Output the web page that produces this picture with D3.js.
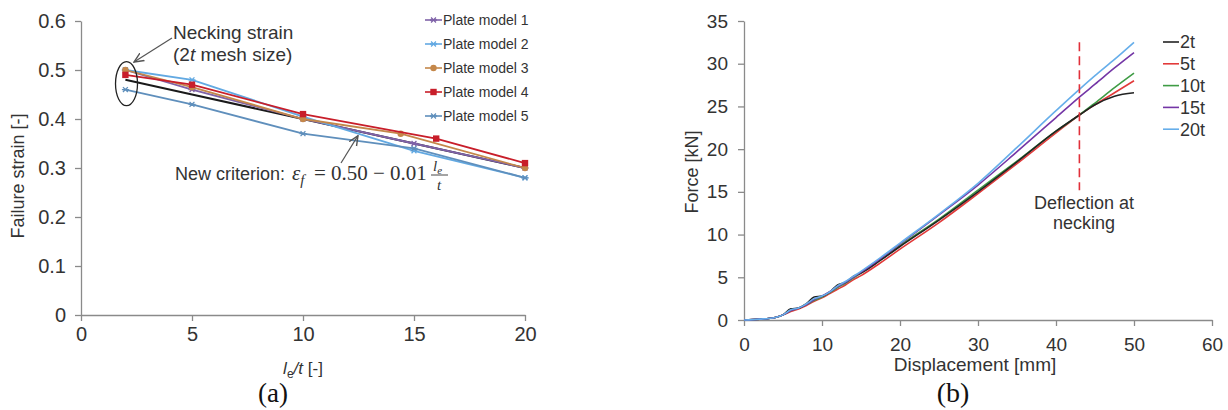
<!DOCTYPE html>
<html>
<head>
<meta charset="utf-8">
<script src="https://cdn.jsdelivr.net/npm/d3@7/dist/d3.min.js"></script>
<style>
  html, body { margin: 0; padding: 0; background: #fff; }
  svg { display: block; }
  .tick text { fill: #333; }
</style>
</head>
<body>
<svg id="fig" width="1228" height="410"></svg>
<script>
// ---------- Panel (a): failure strain vs. element length ratio ----------
const ratioTicks = [0, 5, 10, 15, 20];
const strainTicks = [0, 0.1, 0.2, 0.3, 0.4, 0.5, 0.6];

const plateNames = ["Plate model 1", "Plate model 2", "Plate model 3", "Plate model 4", "Plate model 5"];
const plate1X = [2, 5, 10, 15, 20];
const plate1Y = [0.50, 0.46, 0.40, 0.35, 0.30];
const plate2X = [2, 5, 10, 15, 20];
const plate2Y = [0.50, 0.48, 0.405, 0.335, 0.28];
const plate3X = [2, 5, 10, 14.4, 20];
const plate3Y = [0.50, 0.465, 0.40, 0.37, 0.30];
const plate4X = [2, 5, 10, 16, 20];
const plate4Y = [0.49, 0.47, 0.41, 0.36, 0.31];
const plate5X = [2, 5, 10, 15, 20];
const plate5Y = [0.46, 0.43, 0.37, 0.34, 0.28];
const criterionX = [2, 5, 10, 15, 20];
const criterionY = [0.48, 0.45, 0.40, 0.35, 0.30];

const plateColors = ["#7f62a8", "#62a9e2", "#c4874a", "#c81e2a", "#5f8fbc"];
const plateMarkers = ["star", "star", "circle", "square", "star"];

// ---------- Panel (b): force vs. displacement ----------
const dispTicks = [0, 10, 20, 30, 40, 50, 60];
const forceTicks = [0, 5, 10, 15, 20, 25, 30, 35];
const meshNames = ["2t", "5t", "10t", "15t", "20t"];
const disp = [0, 2, 4, 5, 6, 7, 8, 9, 10, 11, 12, 13, 14, 15, 17.5, 20, 25, 30, 35, 40, 43, 45, 47.5, 50];
const force2t  = [0, 0.1, 0.3, 0.6, 1.3, 1.4, 1.9, 2.7, 2.8, 3.3, 4.1, 4.4, 5.1, 5.5, 7.0, 8.6, 11.7, 15.0, 18.5, 22.1, 24.0, 25.2, 26.2, 26.6];
const force5t  = [0, 0.1, 0.3, 0.6, 1.0, 1.3, 1.7, 2.2, 2.6, 3.1, 3.6, 4.1, 4.7, 5.2, 6.7, 8.3, 11.4, 14.8, 18.3, 21.9, 24.0, 25.2, 26.6, 28.0];
const force10t = [0, 0.1, 0.3, 0.6, 1.1, 1.4, 1.8, 2.3, 2.7, 3.2, 3.8, 4.3, 4.9, 5.5, 7.0, 8.7, 11.8, 15.2, 18.6, 22.1, 24.0, 25.4, 27.2, 28.9];
const force15t = [0, 0.1, 0.3, 0.6, 1.1, 1.4, 1.8, 2.4, 2.8, 3.3, 3.9, 4.4, 5.0, 5.6, 7.2, 8.9, 12.3, 15.8, 19.7, 23.7, 26.1, 27.6, 29.5, 31.3];
const force20t = [0, 0.1, 0.3, 0.6, 1.2, 1.4, 1.9, 2.5, 2.8, 3.3, 4.0, 4.5, 5.1, 5.7, 7.3, 9.0, 12.4, 16.0, 20.2, 24.5, 27.0, 28.6, 30.5, 32.5];
const meshColors = ["#222222", "#e23a3a", "#3f9c45", "#7436a6", "#66aeea"];
const neckingDisp = 43;
const neckingRange = [15.2, 32.5];

const svg = d3.select("#fig");
const axisGrey = "#8a8a8a";
const sans = "Liberation Sans, Arial, sans-serif";
const serif = "Liberation Serif, Times New Roman, serif";

function styleAxis(g, size) {
  g.select(".domain").attr("stroke", axisGrey).attr("stroke-width", 1.3);
  g.selectAll(".tick line").attr("stroke", axisGrey).attr("stroke-width", 1.3);
  g.selectAll(".tick text").attr("font-family", sans).attr("font-size", size).attr("fill", "#333");
}

svg.append("defs").append("marker")
  .attr("id", "arrowHead")
  .attr("viewBox", "0 0 10 10").attr("refX", 9).attr("refY", 5)
  .attr("markerWidth", 9).attr("markerHeight", 9)
  .attr("orient", "auto-start-reverse")
  .append("path").attr("d", "M0,1 L9,5 L0,9").attr("fill", "none")
  .attr("stroke", "#555").attr("stroke-width", 1.3);

// ===== Panel (a) =====
const xa = d3.scaleLinear().domain([0, 20]).range([81, 525]);
const ya = d3.scaleLinear().domain([0, 0.6]).range([315, 21]);
const pa = svg.append("g");

pa.append("g").attr("transform", "translate(0,315)")
  .call(d3.axisBottom(xa).tickValues(ratioTicks).tickFormat(d3.format("d")).tickSize(6).tickSizeOuter(0).tickPadding(6))
  .call(g => styleAxis(g, 20));
pa.append("g").attr("transform", "translate(81,0)")
  .call(d3.axisLeft(ya).tickValues(strainTicks).tickFormat(d => d === 0 ? "0" : d3.format(".1f")(d)).tickSize(6).tickSizeOuter(0).tickPadding(9))
  .call(g => styleAxis(g, 20));

const plateSeries = [
  { x: plate1X, y: plate1Y }, { x: plate2X, y: plate2Y }, { x: plate3X, y: plate3Y },
  { x: plate4X, y: plate4Y }, { x: plate5X, y: plate5Y }
];
const lineA = d3.line().x(d => xa(d[0])).y(d => ya(d[1]));

// criterion line (black) drawn beneath the plate models
pa.append("path").datum(d3.zip(criterionX, criterionY))
  .attr("d", lineA).attr("fill", "none").attr("stroke", "#1a1a1a").attr("stroke-width", 2);

plateSeries.forEach((s, i) => {
  const pts = d3.zip(s.x, s.y);
  pa.append("path").datum(pts).attr("d", lineA)
    .attr("fill", "none").attr("stroke", plateColors[i]).attr("stroke-width", 1.8);
  const mk = pa.append("g");
  pts.forEach(p => drawMarker(mk, xa(p[0]), ya(p[1]), plateMarkers[i], plateColors[i]));
});

function drawMarker(g, cx, cy, type, color) {
  if (type === "square") {
    g.append("rect").attr("x", cx - 3.2).attr("y", cy - 3.2).attr("width", 6.4).attr("height", 6.4).attr("fill", color);
  } else if (type === "circle") {
    g.append("circle").attr("cx", cx).attr("cy", cy).attr("r", 3.2).attr("fill", color);
  } else {
    const r = 3.5;
    g.append("path")
      .attr("d", `M${cx - r},${cy}H${cx + r}M${cx - r * 0.7},${cy - r * 0.7}L${cx + r * 0.7},${cy + r * 0.7}M${cx - r * 0.7},${cy + r * 0.7}L${cx + r * 0.7},${cy - r * 0.7}`)
      .attr("stroke", color).attr("stroke-width", 1.3);
  }
}

// legend (a)
const legA = pa.append("g");
plateNames.forEach((name, i) => {
  const y = 20 + i * 24;
  legA.append("line").attr("x1", 425).attr("x2", 442).attr("y1", y).attr("y2", y)
    .attr("stroke", plateColors[i]).attr("stroke-width", 1.6);
  drawMarker(legA, 433.5, y, plateMarkers[i], plateColors[i]);
  legA.append("text").attr("x", 443).attr("y", y).attr("dy", "0.35em")
    .attr("font-family", sans).attr("font-size", 14).attr("fill", "#333").text(name);
});

// axis titles (a)
const xTitleA = pa.append("text").attr("x", 303).attr("y", 374).attr("text-anchor", "middle")
  .attr("font-family", sans).attr("font-size", 17).attr("fill", "#333");
xTitleA.append("tspan").attr("font-style", "italic").text("l");
xTitleA.append("tspan").attr("font-size", 12).attr("dy", 4).text("e");
xTitleA.append("tspan").attr("dy", -4).attr("font-style", "italic").text("/t");
xTitleA.append("tspan").text(" [-]");

pa.append("text").attr("transform", "translate(24,176) rotate(-90)").attr("text-anchor", "middle")
  .attr("font-family", sans).attr("font-size", 18).attr("fill", "#333").text("Failure strain [-]");

// necking strain annotation
pa.append("ellipse").attr("cx", xa(2.05)).attr("cy", ya(0.472)).attr("rx", 11).attr("ry", 22)
  .attr("fill", "none").attr("stroke", "#222").attr("stroke-width", 1.3);
pa.append("line").attr("x1", 172).attr("y1", 38).attr("x2", 134).attr("y2", 62)
  .attr("stroke", "#555").attr("stroke-width", 1.2).attr("marker-end", "url(#arrowHead)");
pa.append("text").attr("x", 173).attr("y", 39).attr("font-family", sans).attr("font-size", 19)
  .attr("fill", "#333").text("Necking strain");
const mesh = pa.append("text").attr("x", 173).attr("y", 61).attr("font-family", sans).attr("font-size", 19).attr("fill", "#333");
mesh.append("tspan").text("(2");
mesh.append("tspan").attr("font-style", "italic").text("t");
mesh.append("tspan").text(" mesh size)");

// criterion annotation
pa.append("line").attr("x1", 341).attr("y1", 163).attr("x2", 358).attr("y2", ya(0.366))
  .attr("stroke", "#555").attr("stroke-width", 1.2).attr("marker-end", "url(#arrowHead)");
pa.append("text").attr("x", 175).attr("y", 180).attr("font-family", sans).attr("font-size", 18)
  .attr("fill", "#333").text("New criterion:");
const eq = pa.append("text").attr("x", 292).attr("y", 180).attr("font-family", serif).attr("font-size", 21).attr("fill", "#333");
eq.append("tspan").attr("font-style", "italic").text("ε");
eq.append("tspan").attr("font-style", "italic").attr("font-size", 15).attr("dy", 5).text("f");
eq.append("tspan").attr("dy", -5).text("\u2009 = 0.50 \u2212 0.01");
// fraction l_e / t
pa.append("line").attr("x1", 431).attr("x2", 448).attr("y1", 175).attr("y2", 175).attr("stroke", "#333").attr("stroke-width", 0.9);
const num = pa.append("text").attr("x", 433).attr("y", 171).attr("font-family", serif).attr("font-size", 15).attr("fill", "#333");
num.append("tspan").attr("font-style", "italic").text("l");
num.append("tspan").attr("font-style", "italic").attr("font-size", 11).attr("dy", 3).text("e");
pa.append("text").attr("x", 439).attr("y", 190).attr("text-anchor", "middle").attr("font-family", serif)
  .attr("font-style", "italic").attr("font-size", 15).attr("fill", "#333").text("t");

pa.append("text").attr("x", 273).attr("y", 402).attr("text-anchor", "middle")
  .attr("font-family", serif).attr("font-size", 27).attr("fill", "#111").text("(a)");

// ===== Panel (b) =====
const xb = d3.scaleLinear().domain([0, 60]).range([744, 1212]);
const yb = d3.scaleLinear().domain([0, 35]).range([320, 21]);
const pb = svg.append("g");

pb.append("g").attr("transform", "translate(0,320)")
  .call(d3.axisBottom(xb).tickValues(dispTicks).tickSize(6).tickSizeOuter(0).tickPadding(12))
  .call(g => styleAxis(g, 19));
pb.append("g").attr("transform", "translate(744,0)")
  .call(d3.axisLeft(yb).tickValues(forceTicks).tickSize(6).tickSizeOuter(0).tickPadding(10))
  .call(g => styleAxis(g, 19));

const forceSeries = [force2t, force5t, force10t, force15t, force20t];
const lineB = d3.line().x(d => xb(d[0])).y(d => yb(d[1])).curve(d3.curveMonotoneX);
// draw order keeps the blue 20t curve on top in the overlapping early part
[1, 2, 0, 3, 4].forEach(i => {
  pb.append("path").datum(d3.zip(disp, forceSeries[i])).attr("d", lineB)
    .attr("fill", "none").attr("stroke", meshColors[i]).attr("stroke-width", 1.6);
});

// necking marker
pb.append("line").attr("x1", xb(neckingDisp)).attr("x2", xb(neckingDisp))
  .attr("y1", yb(neckingRange[1])).attr("y2", yb(neckingRange[0]))
  .attr("stroke", "#e0303a").attr("stroke-width", 1.6).attr("stroke-dasharray", "9,5");
pb.append("text").attr("x", 1084).attr("y", 209).attr("text-anchor", "middle")
  .attr("font-family", sans).attr("font-size", 18).attr("fill", "#333").text("Deflection at");
pb.append("text").attr("x", 1084).attr("y", 229).attr("text-anchor", "middle")
  .attr("font-family", sans).attr("font-size", 18).attr("fill", "#333").text("necking");

// legend (b)
meshNames.forEach((name, i) => {
  const y = 42 + i * 21.8;
  pb.append("line").attr("x1", 1163).attr("x2", 1179).attr("y1", y).attr("y2", y)
    .attr("stroke", meshColors[i]).attr("stroke-width", 1.6);
  pb.append("text").attr("x", 1180).attr("y", y).attr("dy", "0.35em")
    .attr("font-family", sans).attr("font-size", 18).attr("fill", "#333").text(name);
});

pb.append("text").attr("x", 975).attr("y", 371).attr("text-anchor", "middle")
  .attr("font-family", sans).attr("font-size", 19).attr("fill", "#333").text("Displacement [mm]");
pb.append("text").attr("transform", "translate(698,172) rotate(-90)").attr("text-anchor", "middle")
  .attr("font-family", sans).attr("font-size", 18).attr("fill", "#333").text("Force [kN]");

pb.append("text").attr("x", 953).attr("y", 402).attr("text-anchor", "middle")
  .attr("font-family", serif).attr("font-size", 28).attr("fill", "#111").text("(b)");
</script>
</body>
</html>
